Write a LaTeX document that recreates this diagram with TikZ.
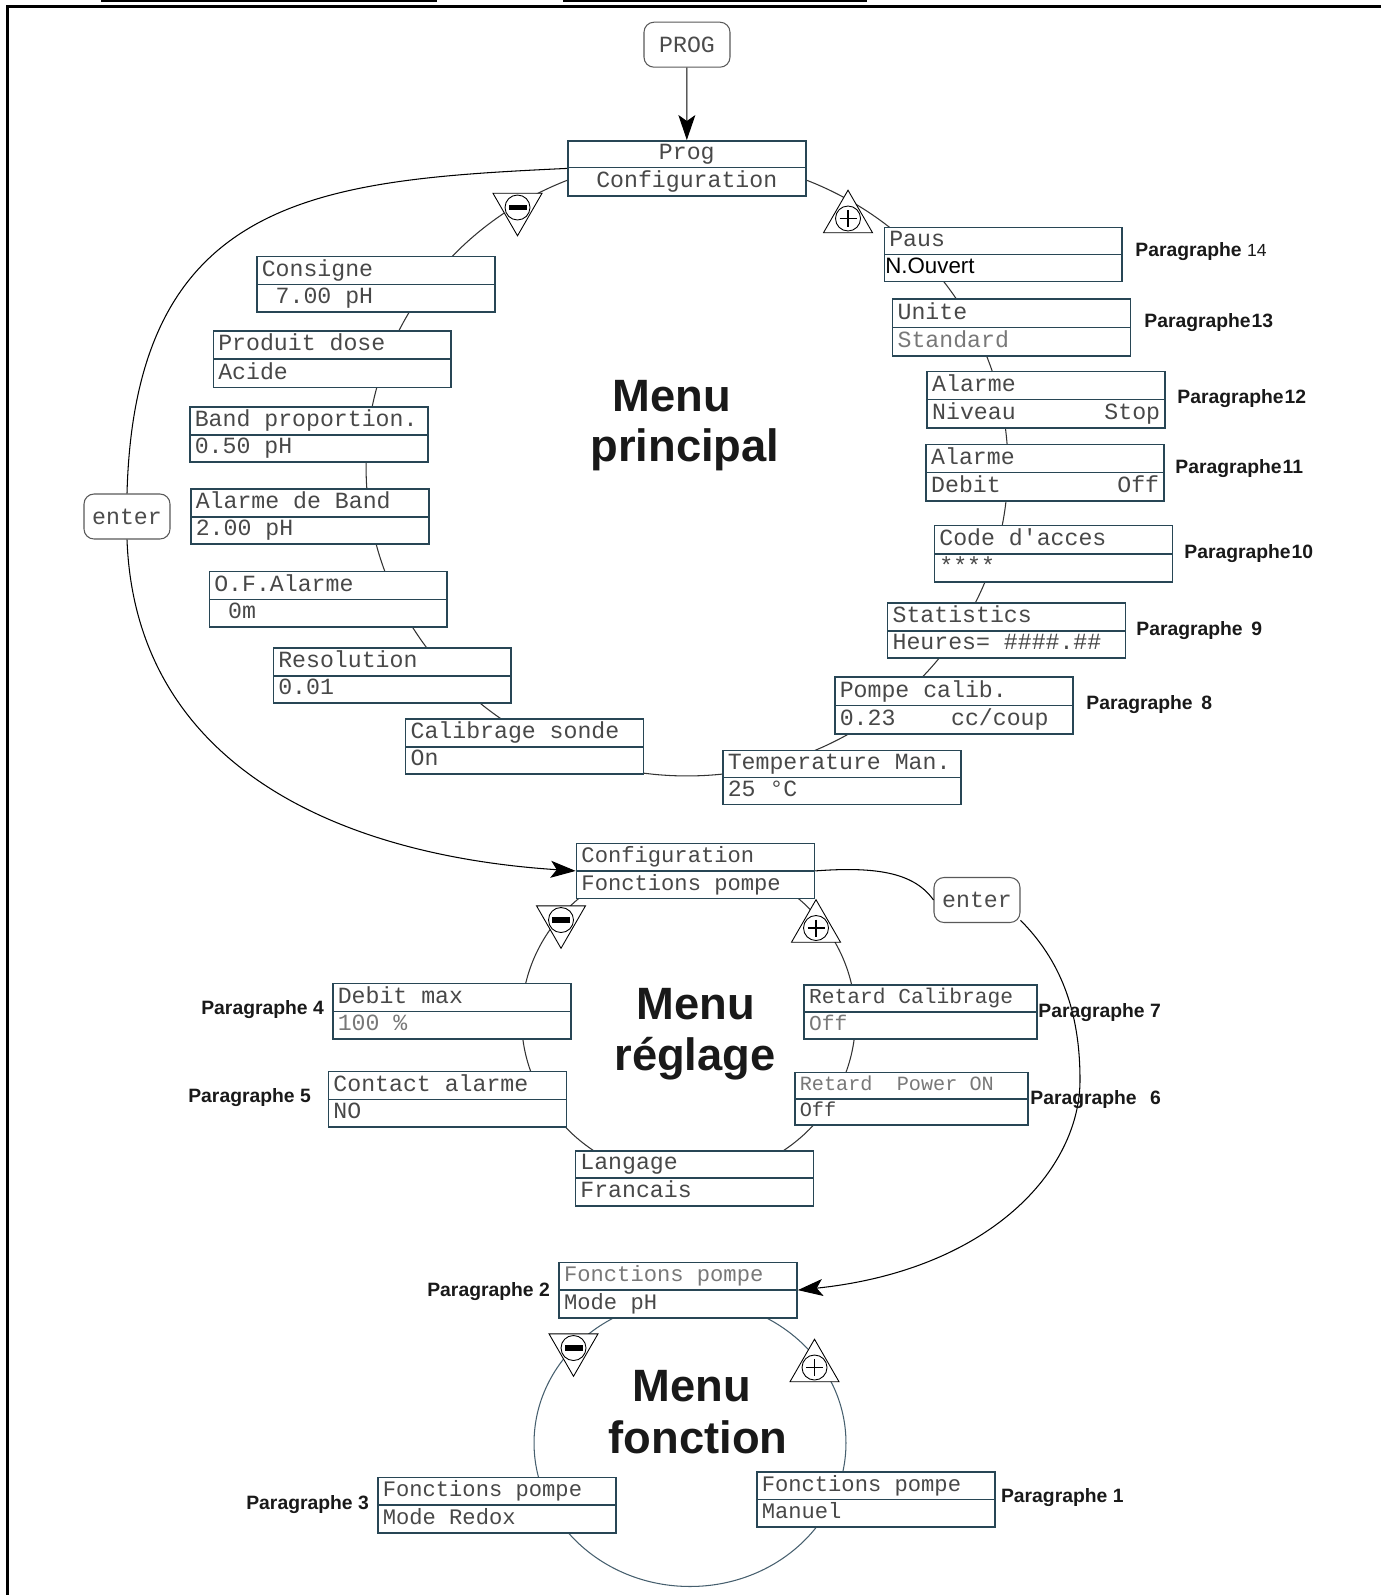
\documentclass[tikz,border=0pt]{standalone}
\usepackage{fontspec}
\setmainfont{Liberation Sans}
\newfontfamily\mono{Liberation Mono}
\newfontfamily\arialfont{Liberation Sans}
\usetikzlibrary{shapes.multipart,arrows.meta}

\definecolor{boxline}{RGB}{40,70,85}
\definecolor{boxtext}{RGB}{72,72,72}
\definecolor{boxlight}{RGB}{120,120,120}
\definecolor{ringblue}{RGB}{70,95,110}

% one row of a display box, fixed width, fixed height
\newcommand\boxrow[2][l]{\makebox[4.56cm][#1]{\rule[-0.1cm]{0pt}{0.35cm}#2}}
\newcommand\narrowrow[1]{\makebox[4.46cm][l]{\rule[-0.1cm]{0pt}{0.35cm}#1}}

\tikzset{
  menubox/.style={rectangle split, rectangle split parts=2, draw=boxline, line width=0.9pt,
    fill=white, text=boxtext, anchor=north west, inner xsep=0.1cm, inner ysep=0.05cm,
    font=\mono\fontsize{13.2}{15}\selectfont},
  smallmono/.style={font=\mono\fontsize{12.6}{15}\selectfont},
  keybox/.style={draw=black!65, line width=0.6pt, rounded corners=0.2cm, minimum width=1.72cm,
    minimum height=0.9cm, inner sep=0pt, fill=white, text=black!70,
    font=\mono\fontsize{13.2}{15}\selectfont},
  para/.style={anchor=west, inner sep=0pt, text=black!90, font=\bfseries\fontsize{11}{13}\selectfont},
  menutitle/.style={anchor=base, inner sep=0pt, text=black!90, font=\bfseries\fontsize{25.8}{30}\selectfont},
  ring/.style={draw=black!80, line width=0.6pt},
  arr/.style={-{Stealth[length=0.5cm,width=0.34cm,inset=0.12cm]}, line width=0.6pt},
  minusbtn/.pic={
    \draw[fill=white, line width=0.5pt] (-24.5,-14.2) -- (24.5,-14.2) -- (0,28.3) -- cycle;
    \draw[fill=white, line width=0.5pt] (0,0) circle (0.25cm);
    \fill (-9,-2.6) rectangle (9,2.6);
  },
  plusbtn/.pic={
    \draw[fill=white, line width=0.5pt] (-24.5,14.2) -- (24.5,14.2) -- (0,-28.3) -- cycle;
    \draw[fill=white, line width=0.5pt] (0,0) circle (0.25cm);
    \draw[line width=0.9pt] (-8.5,0) -- (8.5,0) (0,-8.5) -- (0,8.5);
  }
}

\begin{document}
\begin{tikzpicture}[x=0.02cm, y=-0.02cm]
\useasboundingbox (0,0) rectangle (1380,1595);

% frame
\draw[line width=1.7pt] (7.5,1600) -- (7.5,6.5) -- (1385,6.5);
\draw[line width=1.2pt] (101,0.5) -- (437,0.5) (563,0.5) -- (867,0.5);

% menu rings
\coordinate (cprin) at (687,467);
\coordinate (cregl) at (688.5,1019);
\coordinate (cfonc) at (690,1443);
\draw[ring] (cprin) ellipse [x radius=6.42cm, y radius=6.18cm];
\draw[ring] (cregl) ellipse [x radius=3.34cm, y radius=3.2cm];
\draw[ring, draw=ringblue] (cfonc) ellipse [x radius=3.12cm, y radius=2.87cm];

% keys
\node[keybox] (progkey) at (687,44.7) {PROG};
\node[keybox] (enter1) at (127,516.5) {enter};
\node[keybox] (enter2) at (977,900) {enter};

% Menu principal
\node[menubox] (prog) at (567,140) {\boxrow[c]{Prog}\nodepart{two}\boxrow[c]{Configuration}};
\node[menubox] (cons) at (256,255.5) {\boxrow{Consigne}\nodepart{two}\boxrow{~7.00 pH}};
\node[menubox] (prod) at (212.5,330) {\boxrow{Produit dose}\nodepart{two}\boxrow{Acide}};
\node[menubox] (band) at (189,406) {\boxrow{Band proportion.}\nodepart{two}\boxrow{0.50 pH}};
\node[menubox] (alband) at (190,488) {\boxrow{Alarme de Band}\nodepart{two}\boxrow{2.00 pH}};
\node[menubox] (ofal) at (208.5,570.5) {\boxrow{O.F.Alarme}\nodepart{two}\boxrow{~0m}};
\node[menubox] (resol) at (272.5,647) {\boxrow{Resolution}\nodepart{two}\boxrow{0.01}};
\node[menubox] (calib) at (404.8,718) {\boxrow{Calibrage sonde}\nodepart{two}\boxrow{On}};
\node[menubox] (temp) at (722,749.5) {\boxrow{Temperature Man.}\nodepart{two}\boxrow{25 °C}};
\node[menubox] (pompe) at (834,676.3) {\boxrow{Pompe calib.}\nodepart{two}\boxrow{0.23~~~~cc/coup}};
\node[menubox] (stats) at (886.8,602) {\boxrow{Statistics}\nodepart{two}\boxrow{Heures= \#\#\#\#.\#\#}};
\node[menubox] (code) at (933.6,524.7) {\boxrow{Code d'acces}\nodepart{two}\boxrow{****}};
\node[menubox] (aldeb) at (925.4,443.5) {\boxrow{Alarme}\nodepart{two}\boxrow{Debit\hfill Off}};
\node[menubox] (alniv) at (926.4,370.5) {\boxrow{Alarme}\nodepart{two}\boxrow{Niveau\hfill Stop}};
\node[menubox] (unite) at (891.8,298.2) {\boxrow{Unite}\nodepart{two}\boxrow{\color{boxlight}Standard}};
\node[menubox] (paus) at (883.5,226.8) {\boxrow{Paus}\nodepart{two}\boxrow{\kern-0.08cm\arialfont\fontsize{12.7}{14}\selectfont\color{black}N.Ouvert}};

% Menu reglage
\node[menubox, smallmono] (cfg) at (575.7,842.5) {\boxrow{Configuration}\nodepart{two}\boxrow{Fonctions pompe}};
\node[menubox] (dmax) at (332,982.5) {\boxrow{Debit max}\nodepart{two}\boxrow{\color{boxlight}100 \%}};
\node[menubox] (cont) at (327.7,1070.5) {\boxrow{Contact alarme}\nodepart{two}\boxrow{NO}};
\node[menubox, font=\mono\fontsize{12.1}{15}\selectfont] (rcal) at (803.3,984) {\narrowrow{Retard Calibrage}\nodepart{two}\narrowrow{\color{boxlight}Off}};
\node[menubox, font=\mono\fontsize{11.5}{15}\selectfont] (rpow) at (794,1071.7) {\narrowrow{\color{boxlight}Retard~~Power ON}\nodepart{two}\narrowrow{Off}};
\node[menubox] (lang) at (574.6,1150.2) {\boxrow{Langage}\nodepart{two}\boxrow{Francais}};

% Menu fonction
\node[menubox, smallmono] (fp) at (558.3,1261.7) {\boxrow{\color{boxlight}Fonctions pompe}\nodepart{two}\boxrow{Mode pH}};
\node[menubox, smallmono] (redox) at (377,1476.7) {\boxrow{Fonctions pompe}\nodepart{two}\boxrow{Mode Redox}};
\node[menubox, smallmono] (manuel) at (756,1471) {\boxrow{Fonctions pompe}\nodepart{two}\boxrow{Manuel}};

% + / - keys on the rings
\pic at (517.5,207.5) {minusbtn};
\pic at (848,218.5) {plusbtn};
\pic at (561,920) {minusbtn};
\pic at (816,928) {plusbtn};
\pic at (573.5,1348) {minusbtn};
\pic at (814.5,1367.5) {plusbtn};

% connections
\draw[arr] (progkey) -- (prog);
\draw[line width=0.6pt] (prog.west) .. controls (320,180) and (135,195) .. (enter1.north);
\draw[arr] (enter1.south) .. controls (135,760) and (330,855) .. (cfg.west);
\draw[line width=0.6pt] (cfg.east) .. controls (880,866) and (915,874) .. (enter2.west);
\draw[arr] (enter2.-25) .. controls (1060,960) and (1080,1010) .. (1080,1080)
  .. controls (1080,1170) and (990,1270) .. (fp.east);

% titles
\node[menutitle] (mp1) at (672,411) {Menu};
\node[menutitle] (mp2) at (685,461) {principal};
\node[menutitle] (mr1) at (696,1019) {Menu};
\node[menutitle] (mr2) at (695,1070) {réglage};
\node[menutitle] (mf1) at (692,1401) {Menu};
\node[menutitle] (mf2) at (698,1453) {fonction};

% paragraph references
\node[para] (p14) at (1135,252) {Paragraphe {\mdseries\fontsize{10}{12}\selectfont 14}};
\node[para] (p13) at (1144,323) {Paragraphe\kern0.5pt13};
\node[para] (p12) at (1177,399) {Paragraphe\kern0.5pt12};
\node[para] (p11) at (1175,469) {Paragraphe\kern0.5pt11};
\node[para] (p10) at (1184,554) {Paragraphe\kern0.5pt10};
\node[para] (p9) at (1136,631) {Paragraphe\hspace{0.45em}9};
\node[para] (p8) at (1086,705) {Paragraphe\hspace{0.45em}8};
\node[para] (p7) at (1038,1013) {Paragraphe 7};
\node[para] (p6) at (1030,1100) {Paragraphe\hspace{0.7em}6};
\node[para] (p5) at (188,1098) {Paragraphe 5};
\node[para] (p4) at (201,1010) {Paragraphe 4};
\node[para] (p2) at (427,1292) {Paragraphe 2};
\node[para] (p3) at (246,1505) {Paragraphe 3};
\node[para] (p1) at (1000.7,1498) {Paragraphe 1};
\end{tikzpicture}
\end{document}
